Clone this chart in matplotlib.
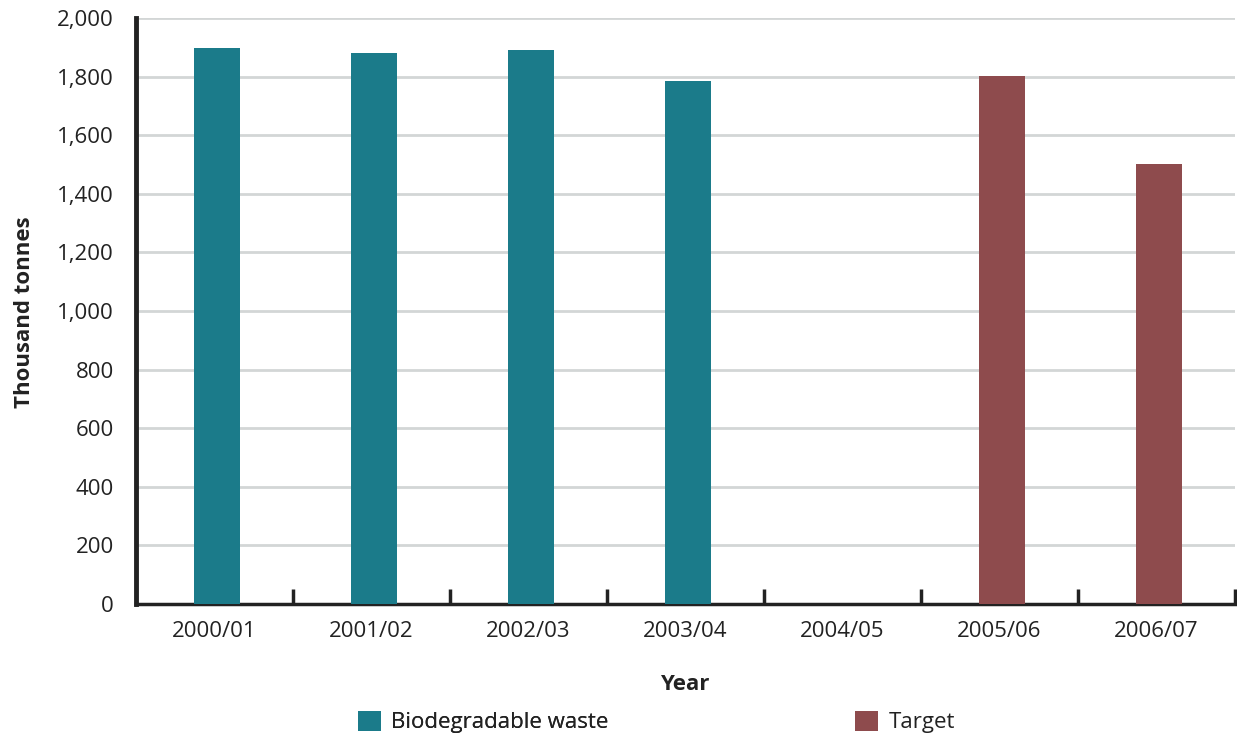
import matplotlib
matplotlib.use("Agg")
import matplotlib.pyplot as plt
import numpy as np

plt.rcParams['font.family'] = ['Open Sans', 'DejaVu Sans']

years = ["2000/01", "2001/02", "2002/03", "2003/04", "2004/05", "2005/06", "2006/07"]
biodegradable = [1898, 1880, 1890, 1785, np.nan, np.nan, np.nan]
target = [np.nan, np.nan, np.nan, np.nan, np.nan, 1802, 1502]
yticks = [0, 200, 400, 600, 800, 1000, 1200, 1400, 1600, 1800, 2000]

teal = "#1b7b8a"
maroon = "#8e4b4d"

W, H = 1237, 737
fig = plt.figure(figsize=(W / 100, H / 100), dpi=100)
ax = fig.add_axes([136 / W, (H - 604) / H, (1235 - 136) / W, (604 - 18) / H])

x = np.arange(len(years))
b1 = ax.bar(x + 0.016, biodegradable, width=0.293, color=teal, label="Biodegradable waste", zorder=3)
b2 = ax.bar(x + 0.016, target, width=0.293, color=maroon, label="Target", zorder=3)

ax.set_xlim(-0.5, len(years) - 0.5)
ax.set_ylim(0, 2000)
ax.set_yticks(yticks)
ax.set_yticklabels([f"{v:,}" for v in yticks], fontsize=16, color="#222222")
ax.tick_params(axis='y', length=0, pad=16)
ax.yaxis.grid(True, color="#d3d6d6", linewidth=2, zorder=0)
ax.set_axisbelow(True)

ax.set_xticks(x)
ax.set_xticklabels(years, fontsize=16, color="#222222")
ax.tick_params(axis='x', which='major', length=0, pad=12)
ax.set_xticks(np.arange(0.5, len(years), 1.0), minor=True)
ax.tick_params(axis='x', which='minor', direction='in', length=11, width=2.5, color="#222222")

for s in ['top', 'right']:
    ax.spines[s].set_visible(False)
ax.spines['left'].set_linewidth(3.5)
ax.spines['left'].set_color("#222222")
ax.spines['bottom'].set_linewidth(2.5)
ax.spines['bottom'].set_color("#222222")

fig.text(25 / W, 1 - 312 / H, "Thousand tonnes", rotation=90, ha='center', va='center',
         fontsize=16, fontweight='bold', color="#222222")
fig.text(685 / W, 1 - 685 / H, "Year", ha='center', va='center',
         fontsize=16, fontweight='bold', color="#222222")

leg1 = fig.legend(handles=[b1], loc='center left', bbox_to_anchor=(358 / W, 1 - 722 / H),
                  frameon=False, fontsize=16, handlelength=1.05, handleheight=1.05,
                  handletextpad=0.45, borderpad=0, borderaxespad=0)
for t in leg1.get_texts():
    t.set_color("#222222")
leg2 = fig.legend(handles=[b2], loc='center left', bbox_to_anchor=(855 / W, 1 - 722 / H),
                  frameon=False, fontsize=16, handlelength=1.05, handleheight=1.05,
                  handletextpad=0.45, borderpad=0, borderaxespad=0)
for t in leg2.get_texts():
    t.set_color("#222222")
fig.add_artist(leg1)

fig.savefig("out.png", dpi=100)
